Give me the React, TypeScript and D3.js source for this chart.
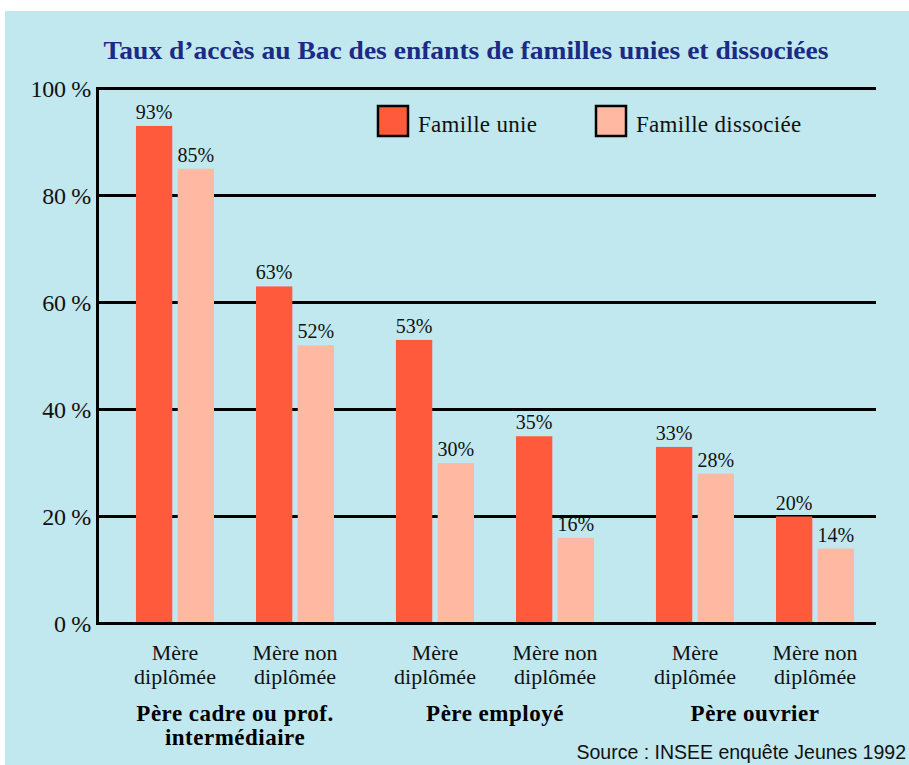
import React from "react";
import * as d3 from "d3";

const fathers = ["Père cadre ou prof. intermédiaire", "Père employé", "Père ouvrier"];
const fatherLines = [["Père cadre ou prof.", "intermédiaire"], ["Père employé"], ["Père ouvrier"]];
const mothers = ["Mère diplômée", "Mère non diplômée"];
const motherLines = [["Mère", "diplômée"], ["Mère non", "diplômée"]];
const seriesNames = ["Famille unie", "Famille dissociée"];
const familleUnie = [93, 63, 53, 35, 33, 20];
const familleDissociee = [85, 52, 30, 16, 28, 14];
const yTicks = [0, 20, 40, 60, 80, 100];
const title = "Taux d’accès au Bac des enfants de familles unies et dissociées";
const source = "Source : INSEE enquête Jeunes 1992";

const W = 909;
const H = 765;
const colors = ["#FF5A3C", "#FFB9A2"];
const serif = "'Liberation Serif', 'Times New Roman', serif";

export default function App() {
  const y = d3.scaleLinear().domain([0, 100]).range([623.5, 88.5]);
  const x0 = d3.scaleBand<string>().domain(fathers).range([105, 885]).padding(0);
  const x1 = d3
    .scaleBand<string>()
    .domain(mothers)
    .range([0, x0.bandwidth()])
    .paddingInner(0.35)
    .paddingOuter(0.258);
  const x2 = d3
    .scaleBand<string>()
    .domain(seriesNames)
    .range([0, x1.bandwidth()])
    .paddingInner(0.13);

  const seriesValues = [familleUnie, familleDissociee];
  const bars: { x: number; y: number; w: number; h: number; v: number; c: string }[] = [];
  fathers.forEach((f, fi) => {
    mothers.forEach((m, mi) => {
      const idx = fi * mothers.length + mi;
      seriesNames.forEach((s, si) => {
        const v = seriesValues[si][idx];
        const bx = (x0(f) as number) + (x1(m) as number) + (x2(s) as number);
        bars.push({ x: bx, y: y(v), w: x2.bandwidth(), h: y(0) - y(v), v, c: colors[si] });
      });
    });
  });

  const xLeft = 97.5;
  const xRight = 876;

  return (
    <svg
      width={W}
      height={H}
      style={{ position: "absolute", left: 0, top: 0, display: "block" }}
    >
      <rect x={0} y={0} width={W} height={H} fill="#ffffff" />
      <rect x={5} y={11} width={W - 5} height={H - 11} fill="#C1E7EF" />
      <text
        x={466}
        y={59}
        textAnchor="middle"
        fontFamily={serif}
        fontWeight="bold"
        fontSize={26}
        fill="#1B2A82"
        textLength={725}
        lengthAdjust="spacingAndGlyphs"
      >
        {title}
      </text>

      {yTicks.map((t) => (
        <g key={t}>
          <line x1={xLeft} x2={xRight} y1={y(t)} y2={y(t)} stroke="#000" strokeWidth={3} />
          <text
            x={91}
            y={y(t) + 8}
            textAnchor="end"
            fontFamily={serif}
            fontSize={24}
            fill="#111"
            letterSpacing={-0.3}
          >
            {t + " %"}
          </text>
        </g>
      ))}

      {bars.map((b, i) => (
        <g key={i}>
          <rect x={b.x} y={b.y} width={b.w} height={b.h} fill={b.c} />
          <text
            x={b.x + b.w / 2}
            y={b.y - 7}
            textAnchor="middle"
            fontFamily={serif}
            fontSize={20}
            fill="#111"
          >
            {b.v + "%"}
          </text>
        </g>
      ))}

      <line x1={xLeft} x2={xLeft} y1={y(100) - 1.5} y2={y(0) + 1.5} stroke="#000" strokeWidth={3} />
      <line x1={xLeft} x2={xRight} y1={y(0)} y2={y(0)} stroke="#000" strokeWidth={3} />

      {fathers.map((f, fi) =>
        mothers.map((m, mi) => {
          const cx = (x0(f) as number) + (x1(m) as number) + x1.bandwidth() / 2;
          return (
            <text
              key={f + m}
              x={cx}
              textAnchor="middle"
              fontFamily={serif}
              fontSize={22}
              fill="#111"
            >
              {motherLines[mi].map((l, li) => (
                <tspan key={li} x={cx} y={660 + li * 24}>
                  {l}
                </tspan>
              ))}
            </text>
          );
        })
      )}

      {fathers.map((f, fi) => {
        const cx = (x0(f) as number) + x0.bandwidth() / 2;
        return (
          <g key={f}>
            {fatherLines[fi].map((l, li) => (
              <text
                key={li}
                x={cx}
                y={721 + li * 24}
                textAnchor="middle"
                fontFamily={serif}
                fontWeight="bold"
                fontSize={23}
                fill="#000"
                letterSpacing={0.5}
              >
                {l}
              </text>
            ))}
          </g>
        );
      })}

      {seriesNames.map((s, si) => {
        const lx = [377, 595][si];
        return (
          <g key={s}>
            <rect x={lx + 1} y={106} width={30} height={30} fill={colors[si]} stroke="#000" strokeWidth={2.5} />
            <text x={lx + 41} y={132} fontFamily={serif} fontSize={23} fill="#111" letterSpacing={0.3}>
              {s}
            </text>
          </g>
        );
      })}

      <text
        x={906}
        y={759}
        textAnchor="end"
        fontFamily="'Liberation Sans', Arial, sans-serif"
        fontSize={19.5}
        fill="#111"
      >
        {source}
      </text>
    </svg>
  );
}
